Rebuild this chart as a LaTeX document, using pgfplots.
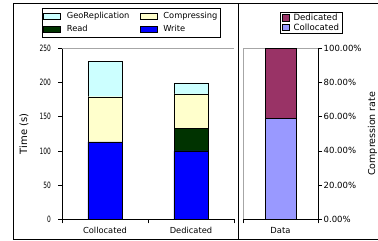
\documentclass[border=0pt]{standalone}
\usepackage{fontspec}
\setmainfont{DejaVu Sans}
\usepackage{graphicx}
\usepackage{pgfplots}
\pgfplotsset{compat=1.18}
\definecolor{geo}{HTML}{CCFFFF}
\definecolor{comp}{HTML}{FFFFCC}
\definecolor{readc}{HTML}{003300}
\definecolor{writec}{HTML}{0000FF}
\definecolor{ded}{HTML}{993366}
\definecolor{col}{HTML}{9999FF}
\pgfplotsset{biglegend/.style={legend image code/.code={\draw[##1] (0pt,-3pt) rectangle (7pt,3.3pt);}}}
\begin{document}
\begin{tikzpicture}
\useasboundingbox (0pt,0pt) rectangle (378pt,241pt);
\draw[line width=0.8pt] (13.3pt,2pt) rectangle (238pt,238pt);
\draw[line width=0.8pt] (238pt,2pt) rectangle (395pt,237.5pt);

\begin{axis}[
  at={(62pt,21.5pt)}, anchor=south west,
  scale only axis, width=172pt, height=171.5pt,
  xmin=-0.5, xmax=1.5, ymin=0, ymax=250,
  axis x line=bottom, axis y line=left, axis line style={-, black},
  ybar stacked, bar width=34pt,
  xtick={0,1}, xticklabels={Collocated,Dedicated},
  minor xtick={-0.5,0.5,1.5},
  major x tick style={draw=none},
  ytick={0,50,100,150,200,250},
  tick align=outside, major tick length=4pt, minor tick length=4pt,
  tick style={black},
  /pgf/number format/assume math mode=true,
  yticklabel={\scalebox{0.68}[1]{\pgfmathprintnumber{\tick}}},
  yticklabel style={font=\fontsize{8.7}{9}\selectfont, inner sep=0pt, xshift=-7pt},
  xticklabel style={font=\fontsize{8.3}{9}\selectfont},
  ylabel={Time (s)},
  ylabel style={font=\fontsize{10}{11}\selectfont, at={(axis description cs:-0.221,0.5)}, anchor=center},
  legend columns=2, reverse legend,
  legend cell align=left,
  legend style={at={(-0.118,1.232)}, anchor=north west, draw=black,
    font=\fontsize{8.3}{9}\selectfont, inner xsep=1.5pt, inner ysep=3pt,
    nodes={inner xsep=1pt, inner ysep=1pt}, row sep=3pt,
    /tikz/every odd column/.append style={column sep=5pt},
    /tikz/every even column/.append style={column sep=9.5pt}},
]
\addplot+[fill=writec, draw=black, area legend] coordinates {(0,113) (1,100)};
\addplot+[fill=readc, draw=black, area legend] coordinates {(0,0) (1,33)};
\addplot+[fill=comp, draw=black, area legend] coordinates {(0,66) (1,50)};
\addplot+[fill=geo, draw=black, area legend] coordinates {(0,52) (1,16)};
\legend{Write,Read,Compressing\hspace{11pt},GeoReplication}
\draw[black!35] (rel axis cs:0,1) -- (rel axis cs:1,1) -- (rel axis cs:1,0);
\end{axis}

\begin{axis}[
  at={(243pt,21.5pt)}, anchor=south west,
  scale only axis, width=75pt, height=171.5pt,
  xmin=-0.5, xmax=0.5, ymin=0, ymax=100,
  axis x line=bottom, axis y line=right, axis line style={-, black},
  ybar stacked, bar width=31pt,
  xtick={0}, xticklabels={Data},
  minor xtick={-0.5,0.5},
  major x tick style={draw=none},
  ytick={0,20,40,60,80,100},
  tick align=outside, major tick length=4pt, minor tick length=4pt,
  tick style={black},
  /pgf/number format/assume math mode=true,
  yticklabel={\pgfmathprintnumber[fixed,fixed zerofill,precision=2]{\tick}\%},
  yticklabel style={font=\fontsize{8.5}{9}\selectfont, inner sep=1.5pt},
  xticklabel style={font=\fontsize{8.4}{9}\selectfont},
  ylabel={Compression rate},
  ylabel style={font=\fontsize{9.5}{11}\selectfont, at={(axis description cs:1.727,0.5)}, anchor=center},
  reverse legend,
  legend cell align=left,
  legend style={at={(0.493,1.21)}, anchor=north west, draw=black,
    font=\fontsize{8.6}{9}\selectfont, inner xsep=1.5pt, inner ysep=1pt,
    nodes={inner xsep=1.5pt, inner ysep=0.8pt},
    /tikz/every odd column/.append style={column sep=3pt}},
]
\addplot+[fill=col, draw=black, biglegend] coordinates {(0,58.8)};
\addplot+[fill=ded, draw=black, biglegend] coordinates {(0,41.2)};
\legend{Collocated,Dedicated}
\draw[black!35] (rel axis cs:0,0) -- (rel axis cs:0,1) -- (rel axis cs:1,1);
\end{axis}
\end{tikzpicture}
\end{document}
